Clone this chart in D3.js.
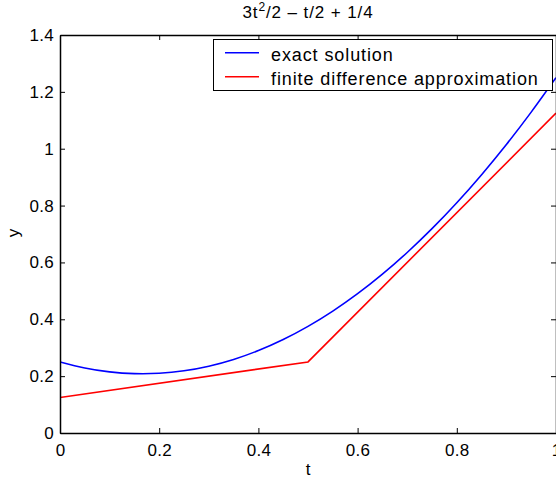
<!DOCTYPE html>
<html><head><meta charset="utf-8">
<script src="https://cdn.jsdelivr.net/npm/d3@7"></script>
<style>body{margin:0;background:#fff}svg{display:block;font-family:"Liberation Sans",Arial,sans-serif}</style>
</head><body>
<script>
const tExact = [0,0.05,0.1,0.15,0.2,0.25,0.3,0.35,0.4,0.45,0.5,0.55,0.6,0.65,0.7,0.75,0.8,0.85,0.9,0.95,1.0];
const yExact = [0.25,0.22875,0.215,0.20875,0.21,0.21875,0.235,0.25875,0.29,0.32875,0.375,0.42875,0.49,0.55875,0.635,0.71875,0.81,0.90875,1.015,1.12875,1.25];
const tFD = [0,0.5,1];
const yFD = [0.125,0.25,1.125];
const xTicks = [0,0.2,0.4,0.6,0.8,1];
const yTicks = [0,0.2,0.4,0.6,0.8,1,1.2,1.4];
const seriesNames = ["exact solution","finite difference approximation"];
const seriesColors = ["#0000ff","#ff0000"];

const W=556,H=480;
const L=60,R=556,T=35,B=433;
const svg=d3.select("body").append("svg").attr("width",W).attr("height",H);
const x=d3.scaleLinear().domain([0,1]).range([L,R]);
const y=d3.scaleLinear().domain([0,1.4]).range([B,T]);

const exact=tExact.map((t,i)=>[t,yExact[i]]);
const fd=tFD.map((t,i)=>[t,yFD[i]]);
svg.append("clipPath").attr("id","c").append("rect").attr("x",L).attr("y",T).attr("width",R-L).attr("height",B-T);
const g=svg.append("g").attr("clip-path","url(#c)");
g.append("path").datum(exact).attr("d",d3.line().x(d=>x(d[0])).y(d=>y(d[1])).curve(d3.curveNatural)).attr("fill","none").attr("stroke",seriesColors[0]).attr("stroke-width",1.6);
g.append("path").datum(fd).attr("d",d3.line().x(d=>x(d[0])).y(d=>y(d[1]))).attr("fill","none").attr("stroke",seriesColors[1]).attr("stroke-width",1.6);

// axes
const fmt=d=>d3.format("~g")(d);
svg.append("g").attr("transform",`translate(0,${B})`).call(d3.axisBottom(x).tickValues(xTicks).tickFormat(fmt).tickSizeInner(-5).tickSizeOuter(0).tickPadding(11));
svg.append("g").attr("transform",`translate(0,${T})`).call(d3.axisTop(x).tickValues(xTicks).tickFormat("").tickSizeInner(-5).tickSizeOuter(0));
svg.append("g").attr("transform",`translate(${L},0)`).call(d3.axisLeft(y).tickValues(yTicks).tickFormat(fmt).tickSizeInner(-5).tickSizeOuter(0).tickPadding(6));
svg.append("g").attr("transform",`translate(${R},0)`).call(d3.axisRight(y).tickValues(yTicks).tickFormat("").tickSizeInner(-5).tickSizeOuter(0));
svg.selectAll(".domain").attr("stroke","#000").attr("stroke-width",1.5);
svg.selectAll(".tick line").attr("stroke","#000").attr("stroke-width",1);
svg.selectAll(".tick text").attr("font-size",17).attr("fill","#000").attr("font-family","Liberation Sans,Arial,sans-serif").attr("letter-spacing",0.3);

// title
const title=svg.append("text").attr("x",308).attr("y",18).attr("text-anchor","middle").attr("font-size",17).attr("letter-spacing",0.9).attr("fill","#000");
title.append("tspan").text("3t");
title.append("tspan").attr("dy",-7).attr("font-size",12).text("2");
title.append("tspan").attr("dy",7).text("/2 \u2013 t/2 + 1/4");

svg.append("text").attr("x",308).attr("y",475).attr("text-anchor","middle").attr("font-size",17).text("t");
svg.append("text").attr("transform",`translate(19,${233}) rotate(-90)`).attr("text-anchor","middle").attr("font-size",17).text("y");

// legend
const lg=svg.append("g");
lg.append("rect").attr("x",213.5).attr("y",39.5).attr("width",339).attr("height",51).attr("fill","#fff").attr("stroke","#000").attr("stroke-width",1);
seriesNames.forEach((n,i)=>{
  const yy=52.7+i*24;
  lg.append("line").attr("x1",225).attr("x2",259).attr("y1",yy).attr("y2",yy).attr("stroke",seriesColors[i]).attr("stroke-width",1.6);
  lg.append("text").attr("x",271).attr("y",yy+7.8).attr("font-size",18).attr("letter-spacing",0.9).attr("fill","#000").text(n);
});
</script>
</body></html>
